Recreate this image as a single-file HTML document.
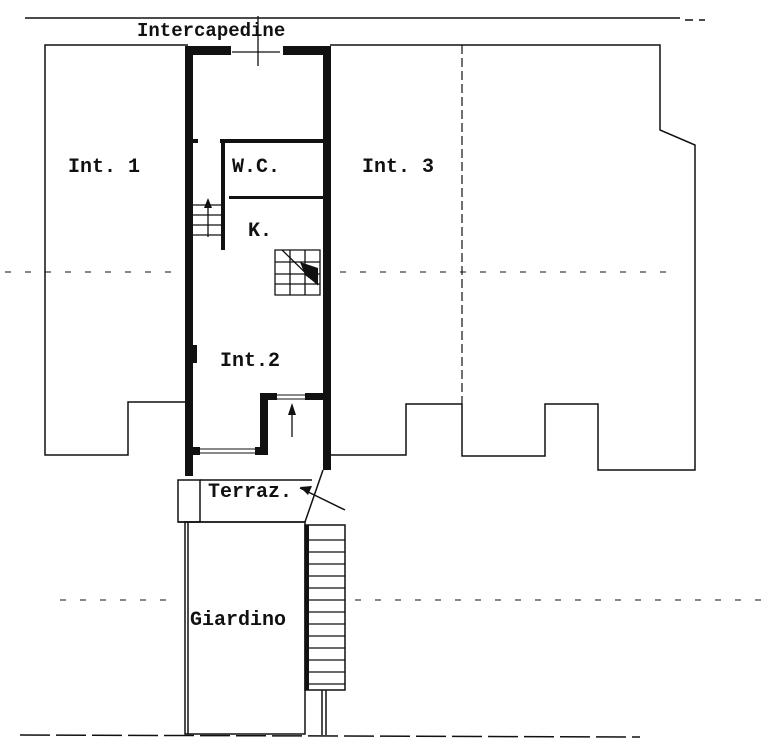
<!DOCTYPE html>
<html><head><style>body{margin:0;background:#fff}svg{display:block}
text{font-family:"Liberation Mono",monospace;font-weight:bold;fill:#111}</style></head><body>
<svg width="773" height="747" viewBox="0 0 773 747" xmlns="http://www.w3.org/2000/svg">
<g stroke="#111" fill="none" stroke-width="1.5">
<line x1="25" y1="18" x2="680" y2="18"/>
<line x1="685" y1="20" x2="705" y2="20" stroke-dasharray="8 6"/>
<polyline points="188,45 45,45 45,455 128,455 128,402 188,402"/>
<polyline points="330,45 660,45 660,130 695,145 695,470 598,470 598,404 545,404 545,456 462,456 462,404 406,404 406,455 330,455"/>
<line x1="462" y1="45" x2="462" y2="404" stroke-dasharray="9 4" stroke-width="1.2"/>
<g stroke-dasharray="6 14" stroke-width="1"><line x1="5" y1="272" x2="180" y2="272"/><line x1="340" y1="272" x2="680" y2="272"/><line x1="60" y1="600" x2="180" y2="600"/><line x1="355" y1="600" x2="770" y2="600"/></g>
<line x1="20" y1="735" x2="640" y2="737" stroke-dasharray="30 6"/>
<rect x="178" y="480" width="22" height="42"/>
<line x1="200" y1="480" x2="312" y2="480"/>
<line x1="178" y1="522" x2="305" y2="522"/>
<line x1="323" y1="470" x2="305" y2="522"/>
<rect x="185" y="522" width="120" height="212"/>
<line x1="188" y1="522" x2="188" y2="734"/>
<rect x="305" y="525" width="40" height="165"/>
<line x1="322" y1="690" x2="322" y2="735"/><line x1="326" y1="690" x2="326" y2="735"/>
<line x1="345" y1="510" x2="300" y2="488"/>
</g>
<g stroke="#111" stroke-width="1.3" fill="none">
<path d="M309 540H345M309 552H345M309 564H345M309 576H345M309 588H345M309 600H345M309 612H345M309 624H345M309 636H345M309 648H345M309 660H345M309 672H345M309 684H345"/>
<path d="M192 205H222M192 215H222M192 225H222M192 235H222M208 200V237"/>
<path d="M275 250H320V295H275ZM275 262H320M275 274H320M275 284H320M290 250V295M305 250V295M282 250L318 285"/>
<line x1="292" y1="405" x2="292" y2="437"/>
<line x1="258" y1="16" x2="258" y2="66"/><line x1="232" y1="52" x2="280" y2="52"/>
</g>
<polygon points="300,487 312,486 308,495" fill="#111"/>
<polygon points="292,403 288,415 296,415" fill="#111"/>
<polygon points="208,198 204,208 212,208" fill="#111"/>
<polygon points="300,262 318,268 318,285 305,275" fill="#111"/>
<g fill="#111">
<rect x="185" y="46" width="8" height="430"/>
<rect x="323" y="46" width="8" height="424"/>
<rect x="185" y="46" width="46" height="9"/><rect x="283" y="46" width="48" height="9"/>
<rect x="220" y="139" width="103" height="4"/>
<rect x="229" y="196" width="94" height="3"/>
<rect x="221" y="139" width="4" height="111"/>
<rect x="193" y="139" width="5" height="4"/>
<rect x="193" y="345" width="4" height="18"/>
<rect x="260" y="393" width="8" height="62"/>
<rect x="260" y="393" width="17" height="7"/><rect x="305" y="393" width="26" height="7"/>
<rect x="185" y="447" width="15" height="8"/><rect x="255" y="447" width="13" height="8"/>
<rect x="305" y="525" width="4" height="165"/>
</g>
<g stroke="#111" stroke-width="1" fill="none"><path d="M277 395H305M277 399H305M200 449H255M200 453H255"/></g>
<text x="137" y="36" font-size="19">Intercapedine</text>
<text x="68" y="172" font-size="20">Int. 1</text>
<text x="232" y="172" font-size="20">W.C.</text>
<text x="362" y="172" font-size="20">Int. 3</text>
<text x="248" y="236" font-size="20">K.</text>
<text x="220" y="366" font-size="20">Int.2</text>
<text x="208" y="497" font-size="20">Terraz.</text>
<text x="190" y="625" font-size="20">Giardino</text>
</svg>
</body></html>
